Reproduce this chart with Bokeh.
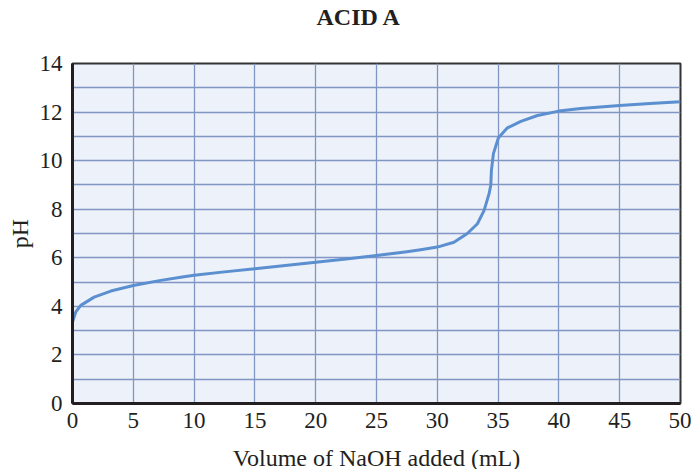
from bokeh.plotting import figure
from bokeh.models import ColumnDataSource, Range1d, FixedTicker
from bokeh.embed import file_html
from bokeh.resources import INLINE

# Data
volume_ml = [0, 0.27, 0.68, 1.78, 3.15, 5, 7.26, 8.9, 10, 12.5, 15, 17.5, 20, 22.5, 25, 27.5,
             28.63, 30, 31.37, 32.47, 33.3, 33.85, 34.26, 34.4, 34.45, 34.62, 35.03, 35.77,
             36.87, 38.24, 40, 41.8, 45, 47.5, 50]
ph_values = [3.35, 3.77, 4.04, 4.38, 4.63, 4.86, 5.07, 5.2, 5.28, 5.42, 5.55, 5.68, 5.82, 5.95,
             6.09, 6.25, 6.33, 6.44, 6.64, 7.0, 7.4, 7.95, 8.64, 9.0, 9.6, 10.3, 10.94, 11.35,
             11.62, 11.86, 12.04, 12.15, 12.27, 12.35, 12.43]
x_ticks = [0, 5, 10, 15, 20, 25, 30, 35, 40, 45, 50]
y_ticks = [0, 2, 4, 6, 8, 10, 12, 14]
y_grid = list(range(0, 15))
title_text = "ACID A"

FONT = "Liberation Serif"
INK = "#231f20"

# trailing empty line lifts the title away from the frame
p = figure(frame_width=608, frame_height=340, output_backend="svg", toolbar_location=None,
           x_range=Range1d(0, 50), y_range=Range1d(0, 14),
           min_border_left=72, min_border_right=11, min_border_top=63, min_border_bottom=66,
           title=title_text + "\n ")

p.title.align = "left"
p.title.offset = 244
p.title.standoff = 4
p.title.text_font = FONT
p.title.text_font_size = "24px"
p.title.text_font_style = "bold"
p.title.text_color = INK
p.title.text_line_height = 1.2

p.background_fill_color = "#edf1fa"
p.border_fill_color = "white"
p.outline_line_color = "#333333"
p.outline_line_width = 2

p.xaxis.ticker = FixedTicker(ticks=x_ticks)
p.yaxis.ticker = FixedTicker(ticks=y_ticks)
p.xgrid.ticker = FixedTicker(ticks=x_ticks)
p.ygrid.ticker = FixedTicker(ticks=y_grid)
for g in (p.xgrid, p.ygrid):
    g.grid_line_color = "#8196c4"
    g.grid_line_width = 1.3
    g.grid_line_alpha = 1.0

for ax in (p.xaxis, p.yaxis):
    ax.axis_line_color = INK
    ax.axis_line_width = 3
    ax.major_tick_line_color = None
    ax.minor_tick_line_color = None
    ax.major_tick_in = 0
    ax.major_tick_out = 0
    ax.minor_tick_in = 0
    ax.minor_tick_out = 0
    ax.major_label_text_font = FONT
    ax.major_label_text_font_size = "23px"
    ax.major_label_text_color = INK
    ax.axis_label_text_font = FONT
    ax.axis_label_text_font_size = "24px"
    ax.axis_label_text_font_style = "normal"
    ax.axis_label_text_color = INK

p.xaxis.axis_label = "Volume of NaOH added (mL)"
p.yaxis.axis_label = "pH"
p.xaxis.major_label_standoff = 9
p.yaxis.major_label_standoff = 10
p.xaxis.axis_label_standoff = 14
p.yaxis.axis_label_standoff = 4

src = ColumnDataSource(data=dict(x=volume_ml, y=ph_values))
p.line("x", "y", source=src, line_color="#5b8fd0", line_width=3, line_join="round")

open("out.html", "w").write(file_html(p, INLINE))
